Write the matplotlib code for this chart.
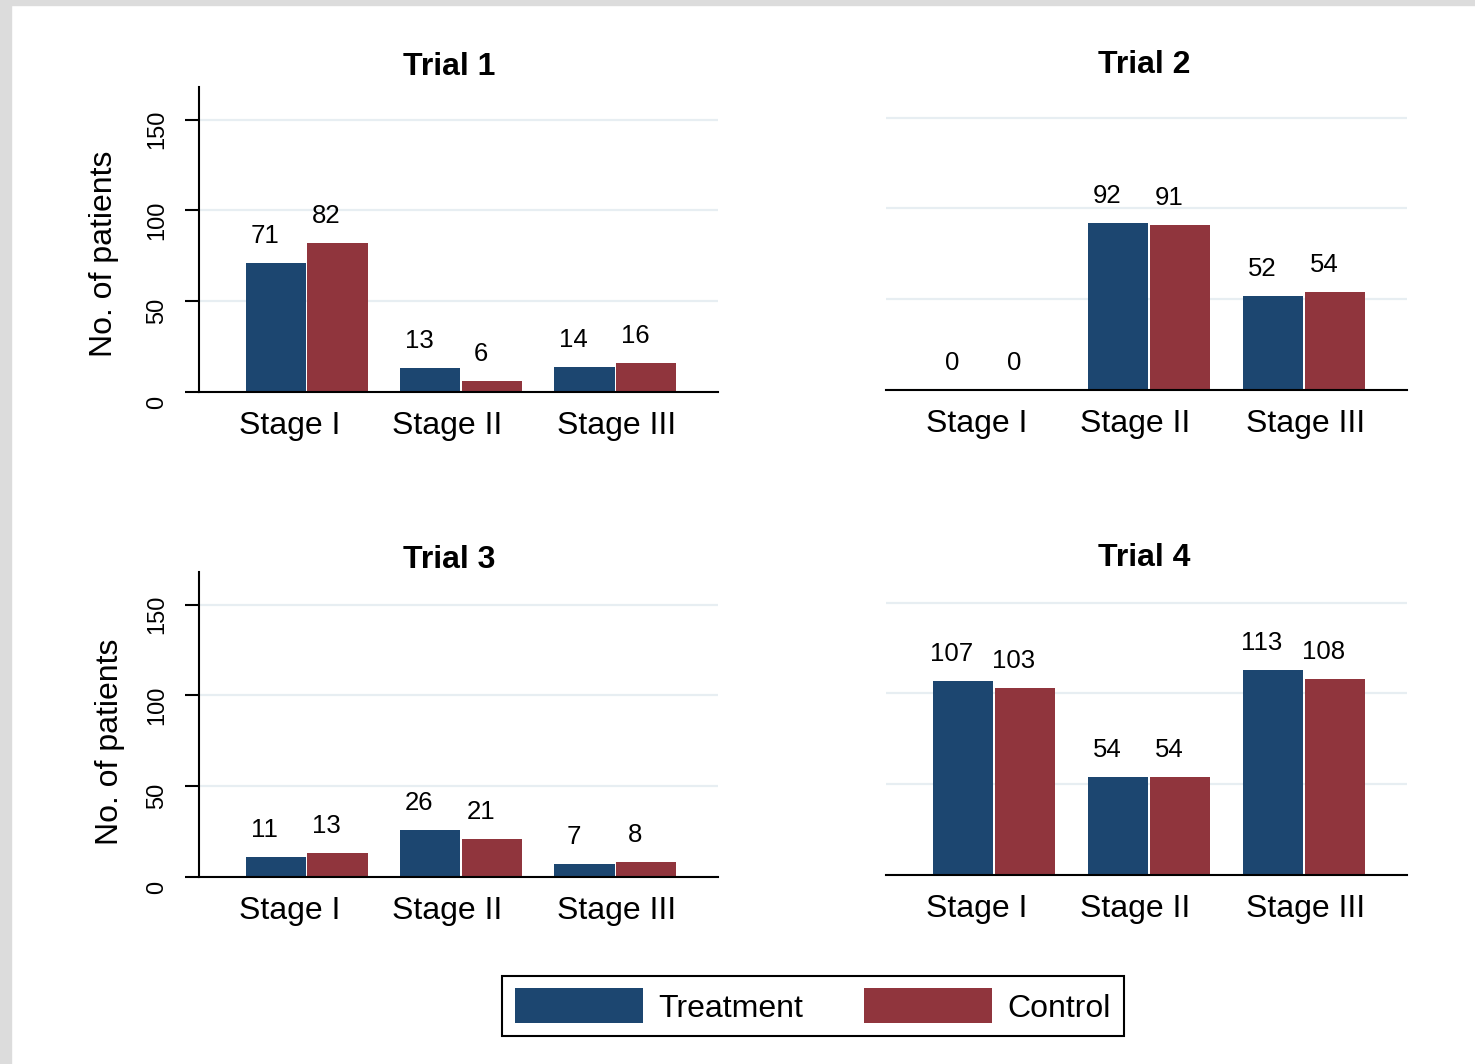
import matplotlib
matplotlib.use('Agg')
import matplotlib.pyplot as plt
import matplotlib.transforms as mtransforms
from matplotlib.patches import Patch, Rectangle

plt.rcParams['font.family'] = ['Liberation Sans', 'DejaVu Sans']

stages = ['Stage I', 'Stage II', 'Stage III']
trials = ['Trial 1', 'Trial 2', 'Trial 3', 'Trial 4']
treatment = [[71, 13, 14], [0, 92, 52], [11, 26, 7], [107, 54, 113]]
control = [[82, 6, 16], [0, 91, 54], [13, 21, 8], [103, 54, 108]]
yticks = [0, 50, 100, 150]

navy = '#1c4670'
maroon = '#90353d'
grid_c = '#e7eef2'

W, H = 1475, 1064
fig = plt.figure(figsize=(W / 100, H / 100), dpi=100)
fig.patch.set_facecolor('white')

# grey frame along top and left edge
fig.patches.append(Rectangle((0, 1 - 5 / H), 1, 5 / H, transform=fig.transFigure,
                             color='#dcdcdc', zorder=0))
fig.patches.append(Rectangle((0, 0), 11 / W, 1, transform=fig.transFigure,
                             color='#dcdcdc', zorder=0))

# panel boxes in pixels: left, right, top, bottom
boxes = [(199, 718, 87, 392), (886, 1407, 85, 390),
         (199, 718, 572, 877), (886, 1407, 570, 875)]
title_pos = [(449, 65), (1144, 63), (449, 558), (1144, 556)]
ylab_pos = {0: (104, 254), 2: (110, 742)}
label_shift = [-0.11, -0.09, 0.01]

x = [1, 2, 3]
w = 0.39
off = 0.2

for k in range(4):
    l, r, t, b = boxes[k]
    ax = fig.add_axes([l / W, 1 - b / H, (r - l) / W, (b - t) / H])
    xa = [i - off for i in x]
    xb = [i + off for i in x]
    ax.bar(xa, treatment[k], width=w, color=navy, edgecolor='none', zorder=3)
    ax.bar(xb, control[k], width=w, color=maroon, edgecolor='none', zorder=3)
    for xi, v in zip(xa, treatment[k]):
        ax.annotate(str(v), (xi, v), xytext=(-11, 27), textcoords='offset pixels',
                    ha='center', va='center', fontsize=18.5)
    for xi, v in zip(xb, control[k]):
        ax.annotate(str(v), (xi, v), xytext=(-11, 27), textcoords='offset pixels',
                    ha='center', va='center', fontsize=18.5)

    ax.set_xlim(0.303, 3.665)
    ax.set_ylim(0, 168)
    ax.set_yticks(yticks)
    ax.yaxis.grid(True, color=grid_c, linewidth=1.6, zorder=0)
    ax.set_axisbelow(True)
    ax.set_xticks([i + s for i, s in zip(x, label_shift)])
    ax.set_xticklabels(stages, fontsize=23)
    ax.tick_params(axis='x', length=0, pad=14)

    for s in ['top', 'right']:
        ax.spines[s].set_visible(False)
    ax.spines['bottom'].set_linewidth(1.5)
    ax.spines['bottom'].set_zorder(4)

    if k % 2 == 0:
        ax.spines['left'].set_linewidth(1.5)
        ax.tick_params(axis='y', length=10, width=1.5, pad=12, labelsize=17)
        for lab in ax.get_yticklabels():
            lab.set_rotation(90)
            lab.set_va('center')
        shift = mtransforms.ScaledTranslation(0, -0.10, fig.dpi_scale_trans)
        for tick in ax.yaxis.get_major_ticks():
            tick.label1.set_transform(tick.label1.get_transform() + shift)
        px, py = ylab_pos[k]
        fig.text(px / W, 1 - py / H, 'No. of patients', rotation=90,
                 ha='center', va='center', fontsize=23)
    else:
        ax.spines['left'].set_visible(False)
        ax.tick_params(axis='y', length=0, labelleft=False)

    tx, ty = title_pos[k]
    fig.text(tx / W, 1 - (ty + 2) / H, trials[k], ha='center', va='center',
             fontsize=23, fontweight='bold')

handles = [Patch(facecolor=navy, label='Treatment'),
           Patch(facecolor=maroon, label='Control')]
leg = fig.legend(handles=handles, loc='center', ncol=2,
                 bbox_to_anchor=(813 / W, 1 - 1006 / H), fontsize=23,
                 handlelength=4.0, handleheight=1.3, handletextpad=0.5,
                 columnspacing=1.9, borderpad=0.4, fancybox=False,
                 edgecolor='black', framealpha=1)
leg.get_frame().set_linewidth(1.5)

fig.savefig('out.png', dpi=100, facecolor='white')
